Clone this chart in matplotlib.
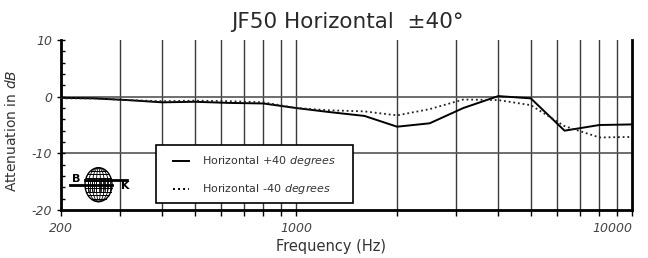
import matplotlib
matplotlib.use("Agg")
import matplotlib.pyplot as plt
import matplotlib.transforms as mtransforms
from matplotlib.patches import Ellipse, Rectangle
from matplotlib.lines import Line2D
import numpy as np

freqs = [200, 250, 315, 400, 500, 630, 800, 1000, 1250, 1600, 2000, 2500, 3150, 4000, 5000, 6300, 8000, 10000]
plus40 = [-0.2, -0.3, -0.6, -1.0, -0.9, -1.1, -1.2, -2.0, -2.7, -3.4, -5.3, -4.7, -2.0, 0.1, -0.3, -6.0, -5.0, -4.9]
minus40 = [-0.3, -0.3, -0.6, -0.8, -0.7, -0.8, -1.0, -2.0, -2.4, -2.6, -3.3, -2.2, -0.5, -0.6, -1.5, -5.2, -7.2, -7.1]
xticks = [200, 1000, 10000]
xticklabels = ["200", "1000", "10000"]
vgrid = [300, 400, 500, 600, 700, 800, 900, 1000, 2000, 3000, 4000, 5000, 6000, 7000, 8000, 9000]
yticks = [10, 0, -10, -20]
legend_labels = ["Horizontal +40 $\\it{degrees}$", "Horizontal -40 $\\it{degrees}$"]

W, H = 648, 258
fig = plt.figure(figsize=(W / 100, H / 100), dpi=100)
ax = fig.add_axes([61 / W, (H - 210) / H, 571 / W, 170 / H])
ax.set_xscale("log")
ax.set_xlim(200, 10000)
ax.set_ylim(-20, 10)

for f in vgrid:
    ax.axvline(f, color="#3a3a3a", lw=1.0, zorder=1)
for yv in [0, -10]:
    ax.axhline(yv, color="#555555", lw=1.2, zorder=1)

ax.plot(freqs, plus40, color="black", lw=1.4, zorder=3)
ax.plot(freqs, minus40, color="#222222", lw=1.3, ls=(0, (1, 1.6)), zorder=3)

ax.spines["top"].set_visible(False)
for s in ["left", "bottom", "right"]:
    ax.spines[s].set_linewidth(2)

ax.set_xticks(xticks)
ax.set_xticklabels(xticklabels, fontstyle="italic", color="#444444", fontsize=9)
lbls = ax.get_xticklabels()
lbls[-1].set_horizontalalignment("right")
lbls[-1].set_transform(lbls[-1].get_transform() + mtransforms.ScaledTranslation(7 / 100, 0, fig.dpi_scale_trans))
ax.set_xticks(vgrid, minor=True)
ax.xaxis.set_minor_formatter(matplotlib.ticker.NullFormatter())
ax.tick_params(axis="x", which="both", direction="out", length=4, width=1, pad=5)
ax.set_yticks(yticks)
ax.set_yticklabels([str(v) for v in yticks], fontstyle="italic", color="#444444", fontsize=9)
ax.set_yticks(np.arange(-20, 11, 2), minor=True)
ax.tick_params(axis="y", which="major", direction="inout", length=6, width=1)
ax.tick_params(axis="y", which="minor", direction="in", length=3, width=1)
ax.tick_params(axis="y", which="both", right=False)

ax.set_xlabel("Frequency (Hz)", fontsize=10.5, color="#333333")
ax.xaxis.set_label_coords(0.473, -0.17)
ax.set_ylabel(r"Attenuation in $\it{dB}$", fontsize=10, color="#333333")
ax.yaxis.set_label_coords(-0.074, 0.465)
fig.text(347 / W, 1 - 22 / H, "JF50 Horizontal  \u00b140\u00b0", ha="center", va="center", fontsize=15.5, color="#2a2a2a")

# legend (drawn manually in pixel-derived axes fractions)
def px_to_ax(px, py):
    return (px - 61) / 571, (210 - py) / 170

x0, y0 = px_to_ax(156, 203)
x1, y1 = px_to_ax(353, 145)
ax.add_patch(Rectangle((x0, y0), x1 - x0, y1 - y0, transform=ax.transAxes, fc="white", ec="black", lw=1.2, zorder=5))
for i, (yy, style) in enumerate([(161, "-"), (189, (0, (1, 1.6)))]):
    hx0, hy = px_to_ax(173, yy)
    hx1, _ = px_to_ax(189, yy)
    ax.add_line(Line2D([hx0, hx1], [hy, hy], transform=ax.transAxes, color="black", lw=1.4, ls=style, zorder=6))
    tx, _ = px_to_ax(202, yy)
    ax.text(tx, hy, legend_labels[i], transform=ax.transAxes, fontsize=8, color="#333333", va="center", ha="left", zorder=6)

# logo (B globe K), pixel coordinates
la = fig.add_axes([66 / W, (H - 208) / H, 70 / W, 46 / H])
la.set_xlim(66, 136)
la.set_ylim(208, 162)
la.axis("off")
cx, cy, gw, gh = 98.5, 184.7, 27, 34
la.add_patch(Ellipse((cx, cy), gw, gh, fc="white", ec="black", lw=1.0, zorder=2))
for w in [20, 12, 4]:
    la.add_patch(Ellipse((cx, cy), w, gh, fill=False, ec="black", lw=0.6, zorder=3))
for yy in np.arange(cy - 14, cy + 15, 3.5):
    hw = gw / 2 * np.sqrt(max(0, 1 - ((yy - cy) / (gh / 2)) ** 2))
    la.plot([cx - hw, cx + hw], [yy, yy], color="black", lw=0.7, zorder=3)
for xx in np.arange(cx - 11, cx + 12, 2.2):
    la.plot([xx, xx], [178, 191], color="black", lw=0.6, zorder=3)
la.plot([85, 127], [180, 180], color="black", lw=2.0, zorder=4)
la.plot([70, 112], [184.5, 184.5], color="black", lw=2.0, zorder=4)
la.text(72, 183.5, "B", fontsize=8, fontweight="bold", ha="left", va="bottom", zorder=4)
la.text(121.5, 181, "K", fontsize=8, fontweight="bold", ha="left", va="top", zorder=4)

fig.savefig("out.png", dpi=100)
